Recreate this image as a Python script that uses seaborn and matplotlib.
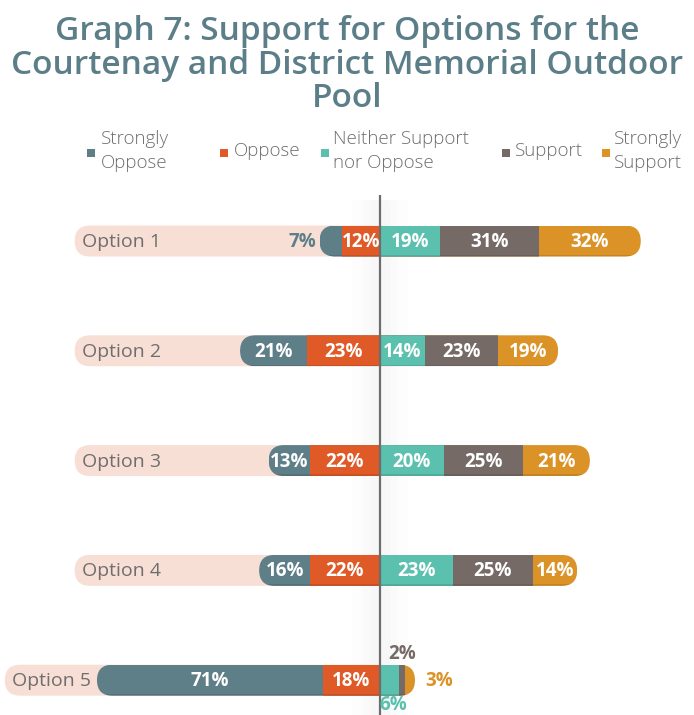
import numpy as np
import pandas as pd
import matplotlib
matplotlib.use("Agg")
import matplotlib.pyplot as plt
from matplotlib.patches import FancyBboxPatch, Rectangle
import seaborn as sns

# ---------------- data ----------------
categories = ["Option 1", "Option 2", "Option 3", "Option 4", "Option 5"]
strongly_oppose = [7, 21, 13, 16, 71]
oppose = [12, 23, 22, 22, 18]
neither = [19, 14, 20, 23, 6]
support = [31, 23, 25, 25, 2]
strongly_support = [32, 19, 21, 14, 3]
series_names = ["Strongly\nOppose", "Oppose", "Neither Support\nnor Oppose",
                "Support", "Strongly\nSupport"]
title = "Graph 7: Support for Options for the\nCourtenay and District Memorial Outdoor\nPool"

# ---------------- style ----------------
C_SO = "#5e7e88"
C_O = "#df5a27"
C_N = "#5cc0ae"
C_S = "#756a66"
C_SS = "#db9328"
C_PILL = "#f8dfd6"
C_TXT = "#6e6e6e"
C_TITLE = "#5b7e88"
colors = [C_SO, C_O, C_N, C_S, C_SS]

sns.set_theme(style="white")
plt.rcParams["font.family"] = ["Open Sans", "DejaVu Sans"]

W, H = 694, 715
fig = plt.figure(figsize=(W / 100, H / 100), dpi=100)
ax = fig.add_axes([0, 0, 1, 1])

XPX = 3.18          # px per percent
X0 = 380            # px of center
ROW0 = 241          # px of first row
ROWSTEP = 109.8     # px between rows
xmin, xmax = -X0 / XPX, (W - X0) / XPX
ytop, ybot = -ROW0 / ROWSTEP, (H - ROW0) / ROWSTEP
BAR_H = 31 / ROWSTEP

df = pd.DataFrame({"cat": categories, "so": strongly_oppose, "o": oppose,
                   "n": neither, "s": support, "ss": strongly_support})
df["left_tot"] = df["so"] + df["o"]
df["right_tot"] = df["n"] + df["s"] + df["ss"]

# aspect for rounded corners (y-units per x-unit in pixels)
asp = (1 / ROWSTEP) / (1 / XPX)
rad = (BAR_H / asp) / 2

# background pills
for i, r in df.iterrows():
    pl = min(-96.0, -r["left_tot"] - 29)
    pill = FancyBboxPatch((pl, i - BAR_H / 2), -pl + 5, BAR_H,
                          boxstyle=f"round,pad=0,rounding_size={rad}",
                          mutation_aspect=asp, facecolor=C_PILL,
                          edgecolor="none", zorder=1)
    ax.add_patch(pill)

# stacked diverging bars drawn as overlapping cumulative layers
layers = [
    (-(df["so"] + df["o"]), C_SO),
    (-df["o"], C_O),
    (df["n"] + df["s"] + df["ss"], C_SS),
    (df["n"] + df["s"], C_S),
    (df["n"], C_N),
]
n_before = len(ax.containers)
for vals, col in layers:
    sns.barplot(x=vals.values, y=df["cat"], orient="y", color=col,
                saturation=1, width=BAR_H, errorbar=None, linewidth=0,
                ax=ax, zorder=2)

# rounded clipping per row
clips = []
for i, r in df.iterrows():
    left = -r["left_tot"]
    width = r["left_tot"] + r["right_tot"]
    cp = FancyBboxPatch((left, i - BAR_H / 2), width, BAR_H,
                        boxstyle=f"round,pad=0,rounding_size={rad}",
                        mutation_aspect=asp, transform=ax.transData)
    clips.append(cp)
for cont in ax.containers[n_before:]:
    for i, p in enumerate(cont.patches):
        p.set_clip_path(clips[i])
        p.set_zorder(2)

# subtle bottom shade on bars
for i, r in df.iterrows():
    ax.plot([-r["left_tot"] + 2, r["right_tot"] - 2],
            [i + BAR_H / 2 - 0.006] * 2, color="black", alpha=0.12, lw=1.2,
            zorder=2.5, clip_path=clips[i])

ax.set_xlim(xmin, xmax)
ax.set_ylim(ybot, ytop)
ax.axis("off")

# center line with soft glow
line_top = (195 - ROW0) / ROWSTEP
for lw, a in [(40, 0.018), (26, 0.022), (14, 0.028)]:
    ax.plot([0, 0], [line_top + 0.05, ybot], color="#9a9a9a", lw=lw,
            alpha=a, solid_capstyle="butt", zorder=0.5)
ax.plot([0, 0], [line_top, ybot], color="#6d6d6d", lw=1.6, zorder=5,
        solid_capstyle="butt")

# option labels
for i, r in df.iterrows():
    pl = min(-96.0, -r["left_tot"] - 29)
    ax.text(pl + 2.2, i + 0.01, r["cat"], ha="left", va="center", fontsize=14,
            color=C_TXT, zorder=3)

# value labels
outside = {(0, "so"): "left", (4, "n"): "below", (4, "s"): "above",
           (4, "ss"): "right"}
keys = ["so", "o", "n", "s", "ss"]
for i, r in df.iterrows():
    starts = {"so": -r["left_tot"], "o": -r["o"], "n": 0.0,
              "s": r["n"], "ss": r["n"] + r["s"]}
    for k, col in zip(keys, colors):
        v = r[k]
        c = starts[k] + v / 2
        lab = f"{v}%"
        pos = outside.get((i, k))
        kw = dict(fontsize=13.5, fontweight="bold", zorder=6)
        if pos is None:
            ax.text(c, i + 0.01, lab, ha="center", va="center", color="white", **kw)
        elif pos == "left":
            ax.text(starts[k] - 1.0, i + 0.01, lab, ha="right", va="center", color=col, **kw)
        elif pos == "right":
            ax.text(starts[k] + v + 3.3, i + 0.01, lab, ha="left", va="center", color=col, **kw)
        elif pos == "above":
            ax.text(c, i - 0.235, lab, ha="center", va="center", color=col, **kw)
        elif pos == "below":
            ax.text(c + 1.2, i + 0.222, lab, ha="center", va="center", color=col, **kw)

# title
fig.text(0.5, 1 - 65 / H, title, ha="center", va="center",
         multialignment="center", fontsize=24, fontweight="semibold",
         color=C_TITLE, linespacing=1.03)

# legend (manual)
leg_x = [87, 220, 321, 502, 602]
leg_tx = [101, 234, 333, 515, 614]
for mx, tx, name, col in zip(leg_x, leg_tx, series_names, colors):
    fig.patches.append(Rectangle((mx / W, 1 - 157 / H), 8 / W, 8 / H,
                                 transform=fig.transFigure, facecolor=col,
                                 edgecolor="none"))
    fig.text(tx / W, 1 - 151 / H, name, ha="left", va="center",
             fontsize=13.5, fontweight="light", color=C_TXT, linespacing=1.4)

fig.savefig("out.png", dpi=100)
